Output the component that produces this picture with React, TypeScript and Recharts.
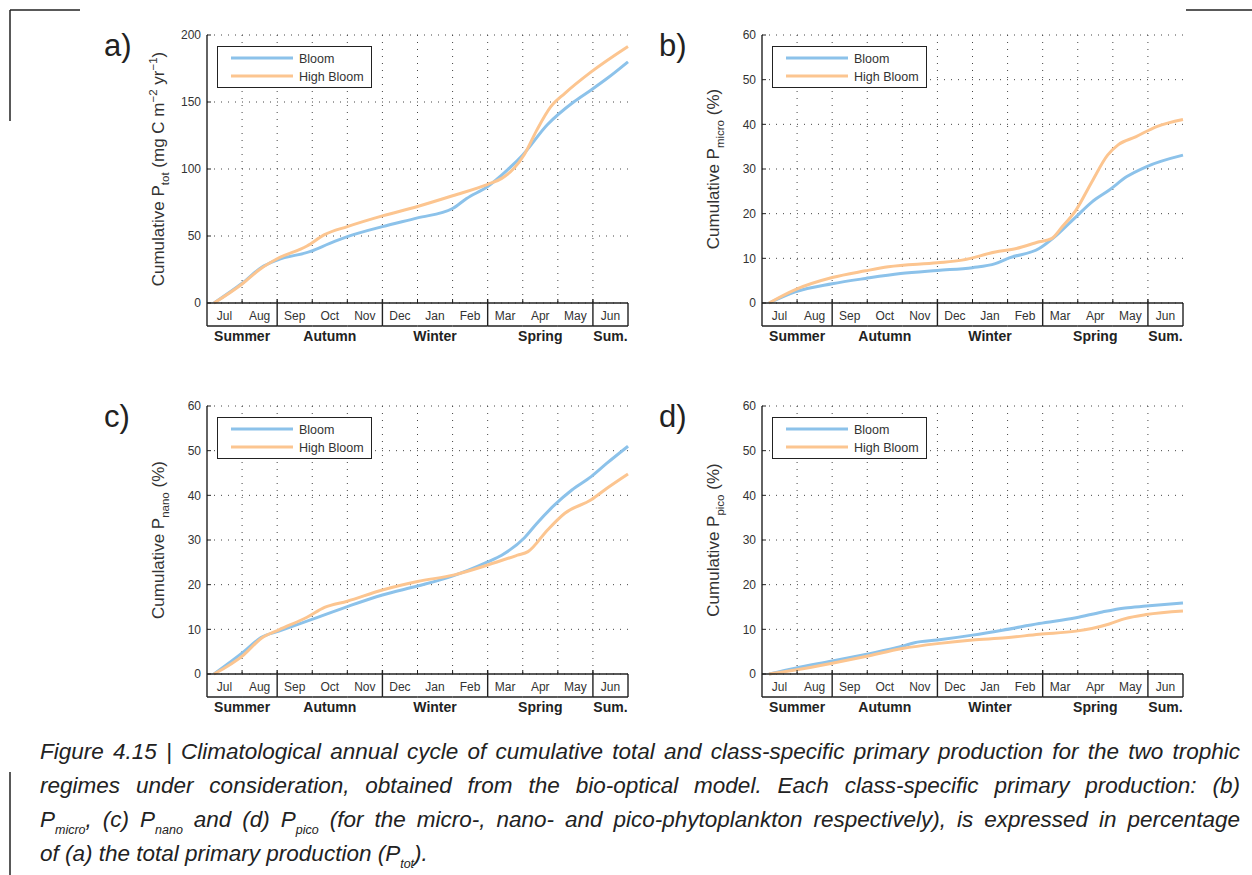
import { LineChart, Line, XAxis, YAxis, CartesianGrid } from "recharts"

// x = months since 1 July, y = cumulative value
const months = ["Jul", "Aug", "Sep", "Oct", "Nov", "Dec", "Jan", "Feb", "Mar", "Apr", "May", "Jun"]
const seasons = ["Summer", "Autumn", "Winter", "Spring", "Sum."]
const seasonBreaks = [0, 2, 5, 8, 11, 12]
const seasonCenters = [1, 3.5, 6.5, 9.5, 11.5]
const monthBounds = [1, 2, 3, 4, 5, 6, 7, 8, 9, 10, 11]

const totTicks = [0, 50, 100, 150, 200]
const pctTicks = [0, 10, 20, 30, 40, 50, 60]

const totBloom = [[0.2, 0], [1, 14.7], [1.55, 26.5], [2, 32], [2.95, 38.5], [3.5, 44.5], [4, 49.5], [5, 57], [6, 63.5], [7, 70.5], [7.4, 78], [8, 87], [8.55, 99], [9, 110.5], [9.7, 133], [10.45, 150], [10.95, 159], [11.4, 167.5], [12, 180]]
const totHigh = [[0.2, 0], [1, 14.2], [1.5, 25], [2, 33], [2.85, 42.5], [3.35, 51], [4, 57], [5, 65], [6, 72], [7, 80], [8, 88.5], [8.4, 93], [8.75, 100.5], [9.05, 111], [9.4, 129], [9.8, 146.5], [10.2, 156.5], [10.95, 172.5], [12, 191.5]]

const microBloom = [[0.2, 0], [0.95, 2.5], [2, 4.3], [2.95, 5.5], [3.95, 6.6], [5, 7.3], [6, 7.9], [6.65, 8.8], [7.05, 10.1], [7.9, 12.2], [8.4, 15.2], [8.95, 19.3], [9.4, 22.6], [9.9, 25.3], [10.4, 28.3], [10.95, 30.5], [12, 33.1]]
const microHigh = [[0.2, 0], [0.95, 3], [2, 5.7], [2.95, 7.2], [3.6, 8.1], [5, 9], [5.7, 9.6], [6.65, 11.4], [7.25, 12.2], [7.9, 13.7], [8.25, 14.4], [8.55, 17], [8.95, 20.8], [9.4, 27.1], [9.85, 33.1], [10.15, 35.4], [10.65, 37.2], [11.25, 39.5], [12, 41.1]]

const nanoBloom = [[0.2, 0], [1.05, 5], [1.55, 8.2], [2.05, 9.6], [2.95, 12.1], [4, 15.1], [5, 17.7], [6, 19.7], [6.95, 21.8], [8, 25.1], [8.4, 26.6], [9.05, 30.5], [9.4, 33.7], [9.9, 37.8], [10.4, 41.2], [10.95, 44.2], [11.4, 47.2], [12, 51]]
const nanoHigh = [[0.2, 0], [1.05, 4.3], [1.55, 8], [2.05, 9.9], [2.85, 12.7], [3.35, 14.9], [4, 16.3], [5, 18.8], [6, 20.7], [7.05, 22.2], [8, 24.4], [8.85, 26.6], [9.15, 27.4], [9.7, 32.2], [10.2, 36], [10.95, 39], [11.4, 41.6], [12, 44.8]]

const picoBloom = [[0.2, 0], [0.95, 1.3], [2, 2.9], [2.95, 4.4], [4, 6.2], [4.35, 7], [5, 7.6], [6, 8.7], [6.85, 9.8], [7.9, 11.3], [8.95, 12.6], [9.7, 13.9], [10.35, 14.8], [10.95, 15.2], [12, 15.9]]
const picoHigh = [[0.2, 0], [0.95, 0.9], [2, 2.4], [2.95, 3.9], [4, 5.7], [5, 6.8], [6, 7.6], [6.95, 8.1], [7.9, 8.9], [8.95, 9.6], [9.4, 10.2], [9.9, 11.2], [10.35, 12.4], [10.95, 13.3], [12, 14.1]]

const FONT = '"Liberation Sans", Arial, Helvetica, sans-serif'
const BLUE = "#8cc2ea"
const ORANGE = "#fcc590"
const INK = "#222"

const CHART_W = 550
const CHART_H = 340
const Y_W = 117
const MARGIN = { top: 10, right: 12, left: 0, bottom: 0 }
const PLOT_W = CHART_W - Y_W - MARGIN.right
const MONTH_W = PLOT_W / 12
const BAND_H = 23

const bandTicks = Array.from({ length: 25 }, (_, i) => i / 2)

const toRows = (pts: number[][]) => pts.map(([m, v]) => ({ m, v }))

function BandTick(props: any) {
  const { x, y, payload } = props
  const v = payload.value as number
  const out: any[] = []
  if (Number.isInteger(v)) {
    if (seasonBreaks.includes(v)) {
      out.push(<line key="s" x1={x} x2={x} y1={v === 0 || v === 12 ? y : y - 4} y2={y + BAND_H} stroke={INK} strokeWidth={1.4} />)
    } else {
      out.push(<line key="t" x1={x} x2={x} y1={y - 4} y2={y} stroke={INK} strokeWidth={1} />)
    }
  } else {
    out.push(
      <text key="m" x={x} y={y + 17} textAnchor="middle" fontSize={12} fill="#333" fontFamily={FONT}>
        {months[Math.floor(v)]}
      </text>
    )
    out.push(<line key="b" x1={x - MONTH_W / 2} x2={x + MONTH_W / 2} y1={y + BAND_H} y2={y + BAND_H} stroke={INK} strokeWidth={1.4} />)
  }
  const si = seasonCenters.indexOf(v)
  if (si >= 0) {
    out.push(
      <text key="sl" x={x} y={y + 38} textAnchor="middle" fontSize={14} fontWeight="bold" fill="#222" fontFamily={FONT}>
        {seasons[si]}
      </text>
    )
  }
  return <g>{out}</g>
}

function YLabel({ viewBox, kind }: any) {
  const { x, y, width, height } = viewBox
  const cx = x + width - 43
  const cy = y + height / 2
  const big = 17
  const small = 11.5
  return (
    <text transform={`rotate(-90 ${cx} ${cy})`} x={cx} y={cy} textAnchor="middle" fontSize={big} fill="#333" fontFamily={FONT}>
      Cumulative P
      <tspan fontSize={small} dy={5}>{kind}</tspan>
      {kind === "tot" ? (
        <>
          <tspan dy={-5}> (mg C m</tspan>
          <tspan fontSize={small} dy={-7}>−2</tspan>
          <tspan dy={7}> yr</tspan>
          <tspan fontSize={small} dy={-7}>−1</tspan>
          <tspan dy={7}>)</tspan>
        </>
      ) : (
        <tspan dy={-5}> (%)</tspan>
      )}
    </text>
  )
}

function Panel({ left, top, letter, kind, ticks, max, bloom, high }: any) {
  return (
    <>
      <div style={{ position: "absolute", left, top }}>
        <LineChart width={CHART_W} height={CHART_H} margin={MARGIN}>
          <CartesianGrid stroke="#444" strokeWidth={1} strokeDasharray="1 6" verticalValues={monthBounds} />
          <XAxis
            dataKey="m"
            type="number"
            domain={[0, 12]}
            ticks={bandTicks}
            interval={0}
            height={62}
            tickSize={0}
            tickMargin={0}
            tickLine={false}
            axisLine={{ stroke: INK, strokeWidth: 1.4 }}
            tick={(p: any) => <BandTick {...p} />}
          />
          <XAxis
            xAxisId="top"
            orientation="top"
            type="number"
            domain={[0, 12]}
            ticks={monthBounds}
            height={0}
            mirror
            tick={false}
            tickSize={4}
            tickLine={{ stroke: INK }}
            axisLine={{ stroke: INK, strokeWidth: 1.4 }}
          />
          <YAxis
            type="number"
            domain={[0, max]}
            ticks={ticks}
            width={Y_W}
            tickSize={-4}
            tickMargin={10}
            tickLine={{ stroke: INK }}
            axisLine={{ stroke: INK, strokeWidth: 1.4 }}
            tick={{ fontSize: 12, fill: "#333", fontFamily: FONT }}
            label={(p: any) => <YLabel viewBox={p.viewBox} kind={kind} />}
          />
          <YAxis
            yAxisId="right"
            orientation="right"
            type="number"
            domain={[0, max]}
            ticks={ticks}
            width={0}
            mirror
            tick={false}
            tickSize={4}
            tickLine={{ stroke: INK }}
            axisLine={{ stroke: INK, strokeWidth: 1.4 }}
          />
          <Line data={toRows(bloom)} dataKey="v" type="monotone" stroke={BLUE} strokeWidth={3} dot={false} isAnimationActive={false} />
          <Line data={toRows(high)} dataKey="v" type="monotone" stroke={ORANGE} strokeWidth={3} dot={false} isAnimationActive={false} />
        </LineChart>
      </div>

      {/* legend box */}
      <div
        style={{
          position: "absolute",
          left: left + Y_W + 10,
          top: top + MARGIN.top + 11,
          width: 153,
          height: 40,
          border: `1.5px solid ${INK}`,
          background: "#fff",
        }}
      >
        <svg width={153} height={40}>
          <line x1={13} x2={75} y1={11} y2={11} stroke={BLUE} strokeWidth={3} />
          <text x={81} y={15.5} fontSize={12.5} fill="#333" fontFamily={FONT}>Bloom</text>
          <line x1={13} x2={75} y1={29} y2={29} stroke={ORANGE} strokeWidth={3} />
          <text x={81} y={33.5} fontSize={12.5} fill="#333" fontFamily={FONT}>High Bloom</text>
        </svg>
      </div>

      {/* panel letter */}
      <div style={{ position: "absolute", left: left + 14, top: top + 3, fontSize: 31, lineHeight: "36px", fontFamily: FONT, color: "#222" }}>
        {letter}
      </div>
    </>
  )
}

const sub = (s: string) => <span style={{ fontSize: 12.5, position: "relative", top: 7 }}>{s}</span>

export default function App() {
  const lineStyle: any = { width: 1200, textAlign: "justify", textAlignLast: "justify", height: 34 }
  return (
    <div style={{ position: "absolute", left: 0, top: 0, width: 1252, height: 875, background: "#fff", fontFamily: FONT, overflow: "hidden" }}>
      <svg width={1252} height={875} style={{ position: "absolute", left: 0, top: 0 }}>
        <line x1={10} y1={10} x2={80} y2={10} stroke={INK} strokeWidth={1.5} />
        <line x1={10} y1={10} x2={10} y2={121} stroke={INK} strokeWidth={1.5} />
        <line x1={1186} y1={10} x2={1252} y2={10} stroke={INK} strokeWidth={1.5} />
        <line x1={10} y1={772} x2={10} y2={875} stroke={INK} strokeWidth={1.5} />
      </svg>

      <Panel left={90} top={25} letter="a)" kind="tot" ticks={totTicks} max={200} bloom={totBloom} high={totHigh} />
      <Panel left={645} top={25} letter="b)" kind="micro" ticks={pctTicks} max={60} bloom={microBloom} high={microHigh} />
      <Panel left={90} top={396} letter="c)" kind="nano" ticks={pctTicks} max={60} bloom={nanoBloom} high={nanoHigh} />
      <Panel left={645} top={396} letter="d)" kind="pico" ticks={pctTicks} max={60} bloom={picoBloom} high={picoHigh} />

      <div style={{ position: "absolute", left: 40, top: 735, fontSize: 22.5, lineHeight: "34px", fontStyle: "italic", color: "#222" }}>
        <div style={{ ...lineStyle, wordSpacing: -1 }}>
          Figure 4.15 | Climatological annual cycle of cumulative total and class-specific primary production for the two trophic
        </div>
        <div style={lineStyle}>
          regimes under consideration, obtained from the bio-optical model. Each class-specific primary production: (b)
        </div>
        <div style={lineStyle}>
          P{sub("micro")}, (c) P{sub("nano")} and (d) P{sub("pico")} (for the micro-, nano- and pico-phytoplankton respectively), is expressed in percentage
        </div>
        <div style={{ height: 34 }}>
          of (a) the total primary production (P{sub("tot")}).
        </div>
      </div>
    </div>
  )
}
